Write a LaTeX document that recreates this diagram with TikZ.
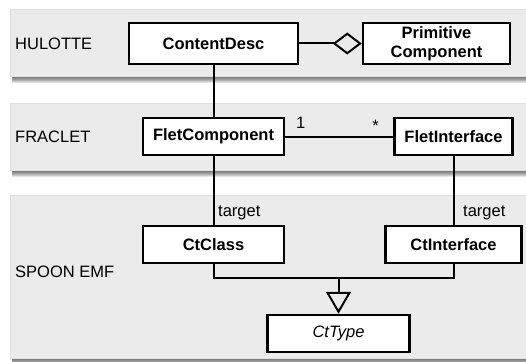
\documentclass[tikz,border=0pt]{standalone}
\usepackage{fontspec}
\setmainfont{Liberation Sans}
\usetikzlibrary{arrows.meta,calc}
\definecolor{bandfill}{HTML}{EBEBEB}
\tikzset{
  cls/.style={draw=black, fill=white, line width=2.5pt, font=\bfseries\fontsize{16.5}{19}\selectfont, inner sep=0pt, align=center},
  lbl/.style={font=\fontsize{16.5}{19}\selectfont, inner sep=0pt},
  conn/.style={line width=2pt, draw=black},
  band/.style={fill=bandfill, draw=black!12, line width=0.5pt},
}
\newcommand{\bandshadow}[4]{%
  \foreach \k in {1,...,7}{%
    \fill[black, opacity=0.11] ($(#1,#2)+(2,0)$) rectangle ($(#3,#4)+(0,\k)$);
  }%
}
\begin{document}
\begin{tikzpicture}[x=1pt,y=-1pt]
\useasboundingbox (0,0) rectangle (526,361);
\fill[white] (0,0) rectangle (526,361);
% bands with shadows
\bandshadow{10}{9}{528}{76}
\draw[band] (10,9) rectangle (528,76);
\bandshadow{10}{103}{528}{170}
\draw[band] (10,103) rectangle (528,170);
\bandshadow{10}{195}{528}{358}
\draw[band] (10,195) rectangle (528,358);
% band labels
\node[lbl, anchor=west] (lh) at (15,44) {HULOTTE};
\node[lbl, anchor=west] (lf) at (15,137) {FRACLET};
\node[lbl, anchor=west] (ls) at (15,272) {SPOON EMF};
% classes
\node[cls, minimum width=169pt, minimum height=41pt] (cd) at (213.5,43.5) {ContentDesc};
\node[cls, minimum width=147pt, minimum height=41pt] (pc) at (436.5,43.5) {Primitive\\Component};
\node[cls, minimum width=141pt, minimum height=37pt] (fc) at (213.5,136.5) {FletComponent};
\node[cls, minimum width=118pt, minimum height=37pt] (fi) at (453.5,136.5) {FletInterface};
\node[cls, minimum width=141pt, minimum height=37pt] (cc) at (213.5,244.5) {CtClass};
\node[cls, minimum width=136pt, minimum height=37pt] (ci) at (453.5,244.5) {CtInterface};
\node[cls, minimum width=142pt, minimum height=37pt, font=\itshape\fontsize{16.5}{19}\selectfont] (ct) at (338.5,333.5) {CtType};
% connectors
\draw[conn, -{Diamond[open, length=29pt, width=22pt, line width=2pt]}] (cd.east) -- (pc.west);
\draw[conn] (cd.south) -- (fc.north);
\draw[conn] (fc.east) -- (fi.west);
\node[lbl, anchor=west] (one) at (296,123) {1};
\node[lbl, anchor=east] (many) at (379,126) {*};
\draw[conn] (fc.south) -- (cc.north);
\draw[conn] (fi.south) -- (ci.north);
\node[lbl, anchor=west] (t1) at (218,213) {target};
\node[lbl, anchor=west] (t2) at (463,213) {target};
\coordinate (j) at (338.5,278);
\draw[conn] (cc.south) |- (j) -| (ci.south);
\draw[conn, -{Triangle[open, length=22pt, width=25pt, line width=2pt]}] (j) -- (ct.north);
\end{tikzpicture}
\end{document}
